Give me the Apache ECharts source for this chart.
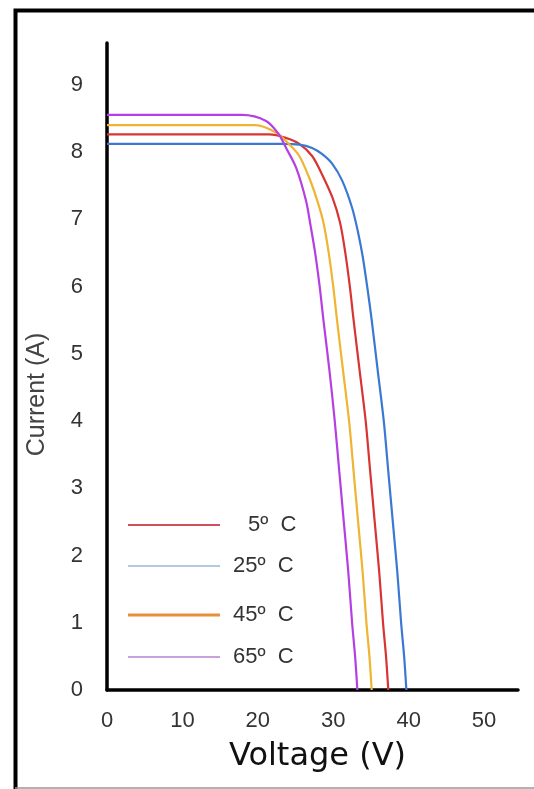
<!DOCTYPE html>
<html>
<head>
<meta charset="utf-8">
<script src="https://cdn.jsdelivr.net/npm/echarts@6/dist/echarts.min.js"></script>
<style>
html,body{margin:0;padding:0;background:#fff;}
#chart{width:534px;height:789px;}
</style>
</head>
<body>
<div id="chart"></div>
<script>
// Series names (legend)
var seriesNames = ['5º C', '25º C', '45º C', '65º C'];

// 5 ºC
var volt5 = [0, 10, 21.5, 23.7, 25.5, 27.2, 28.5, 29.9, 30.9, 31.6, 32.2, 32.7, 33.5, 34.3, 34.9, 35.5, 36.1, 36.6, 37.0, 37.3];
var curr5 = [8.26, 8.26, 8.26, 8.21, 8.12, 7.94, 7.67, 7.32, 6.95, 6.5, 6.0, 5.5, 4.75, 4.0, 3.25, 2.5, 1.75, 1.0, 0.5, 0];
// 25 ºC
var volt25 = [0, 10, 23.2, 25.5, 27.2, 28.5, 29.9, 31.2, 32.5, 33.3, 33.9, 34.5, 35.1, 35.9, 36.7, 37.3, 37.9, 38.5, 39.0, 39.4, 39.7];
var curr25 = [8.12, 8.12, 8.12, 8.11, 8.06, 7.97, 7.82, 7.57, 7.17, 6.8, 6.45, 6.0, 5.5, 4.75, 4.0, 3.25, 2.5, 1.75, 1.0, 0.5, 0];
// 45 ºC
var volt45 = [0, 10, 19.7, 22.4, 24.1, 25.5, 26.8, 27.9, 28.7, 29.4, 30.0, 30.5, 31.3, 32.1, 32.7, 33.3, 33.9, 34.4, 34.8, 35.1];
var curr45 = [8.40, 8.40, 8.40, 8.29, 8.12, 7.94, 7.62, 7.27, 6.95, 6.5, 6.0, 5.5, 4.75, 4.0, 3.25, 2.5, 1.75, 1.0, 0.5, 0];
// 65 ºC
var volt65 = [0, 10, 17.9, 21.1, 22.8, 23.7, 25.1, 26.4, 27.0, 27.6, 28.2, 28.7, 29.5, 30.2, 30.8, 31.4, 32.0, 32.5, 32.9, 33.2];
var curr65 = [8.55, 8.55, 8.55, 8.46, 8.26, 8.07, 7.76, 7.27, 6.9, 6.5, 6.0, 5.5, 4.75, 4.0, 3.25, 2.5, 1.75, 1.0, 0.5, 0];

var lineColors = ['#d83434', '#3b78d2', '#efb432', '#b63fe2'];
var legendColors = ['#d0505e', '#b4c8e2', '#e8903a', '#c8a2dc'];
var legendCenters = [520, 561, 610, 652];

function zip(v, c) { return v.map(function (x, i) { return [x, c[i]]; }); }
var seriesData = [zip(volt5, curr5), zip(volt25, curr25), zip(volt45, curr45), zip(volt65, curr65)];

var chart = echarts.init(document.getElementById('chart'), null, {renderer: 'canvas'});

var legends = seriesNames.map(function (name, i) {
  return {
    left: 123,
    top: legendCenters[i] - 13,
    orient: 'horizontal',
    icon: 'rect',
    itemWidth: 92,
    itemHeight: i === 2 ? 3 : 2,
    selectedMode: false,
    data: [{
      name: name,
      itemStyle: {color: legendColors[i]},
      textStyle: {padding: [0, 0, 0, i === 0 ? 23 : 8]}
    }],
    formatter: function (n) { return n.replace(' ', '  '); },
    textStyle: {fontFamily: 'Liberation Sans, Arial, sans-serif', fontSize: 22, color: '#333', lineHeight: 26}
  };
});

var option = {
  backgroundColor: '#fff',
  animation: false,
  grid: {left: 107, right: 16, top: 43, bottom: 99, containLabel: false},
  legend: legends,
  xAxis: {
    type: 'value',
    min: 0,
    max: 54.5,
    interval: 10,
    name: 'Voltage (V)',
    nameLocation: 'middle',
    nameGap: 51,
    nameTextStyle: {fontFamily: 'DejaVu Sans, sans-serif', fontSize: 32, color: '#111', padding: [0, 0, 0, 10]},
    axisLine: {show: true, onZero: false, lineStyle: {color: '#000', width: 3.5}},
    axisTick: {show: false},
    splitLine: {show: false},
    axisLabel: {showMaxLabel: false, margin: 20, fontFamily: 'Liberation Sans, Arial, sans-serif', fontSize: 22, color: '#333'}
  },
  yAxis: {
    type: 'value',
    min: 0,
    max: 9.62,
    interval: 1,
    name: 'Current (A)',
    nameLocation: 'middle',
    nameGap: 57,
    nameTextStyle: {fontFamily: 'Liberation Sans, Arial, sans-serif', fontSize: 25, color: '#444', padding: [0, 56, 0, 0]},
    axisLine: {show: true, onZero: false, lineStyle: {color: '#000', width: 3.5}},
    axisTick: {show: false},
    splitLine: {show: false},
    axisLabel: {showMaxLabel: false, margin: 24, fontFamily: 'Liberation Sans, Arial, sans-serif', fontSize: 22, color: '#333'}
  },
  graphic: [
    {type: 'rect', shape: {x: 15.5, y: 10.5, width: 560, height: 790}, style: {fill: 'none', stroke: '#000', lineWidth: 4}, z: 100},
    {type: 'line', shape: {x1: 15, y1: 788, x2: 534, y2: 788}, style: {stroke: '#999', lineWidth: 1.5}, z: 100}
  ],
  series: seriesNames.map(function (name, i) {
    return {
      name: name,
      type: 'line',
      data: seriesData[i],
      smooth: 0.3,
      showSymbol: false,
      symbol: 'none',
      color: lineColors[i],
      lineStyle: {color: lineColors[i], width: 2.2}
    };
  })
};
chart.setOption(option);
</script>
</body>
</html>
